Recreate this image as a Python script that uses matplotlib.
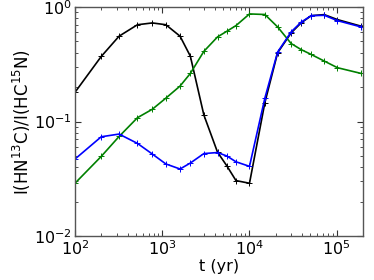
import matplotlib
matplotlib.use("Agg")
import matplotlib.pyplot as plt

# time grid (yr)
t = [100, 200, 320, 520, 770, 1100, 1600, 2100, 3000, 4300, 5500, 7000,
     10000, 15000, 21000, 30000, 39000, 51000, 72000, 102000, 190000]

ratio_black = [0.18, 0.37, 0.556, 0.70, 0.726, 0.70, 0.556, 0.372, 0.114, 0.054,
               0.041, 0.0305, 0.0289, 0.146, 0.398, 0.594, 0.726, 0.84, 0.858,
               0.776, 0.68]
ratio_green = [0.0289, 0.0496, 0.074, 0.108, 0.128, 0.16, 0.204, 0.263, 0.41,
               0.548, 0.614, 0.688, 0.87, 0.86, 0.67, 0.48, 0.425, 0.385, 0.337,
               0.295, 0.263]
ratio_blue = [0.047, 0.0736, 0.0777, 0.0644, 0.052, 0.0426, 0.0385, 0.0434,
              0.0525, 0.0536, 0.050, 0.0445, 0.0406, 0.16, 0.404, 0.606, 0.736,
              0.84, 0.846, 0.76, 0.67]

fig = plt.figure(figsize=(3.74, 2.8), dpi=100)
ax = fig.add_axes([0.2005, 0.157, 0.7701, 0.818])

style = dict(marker='+', markersize=5, linewidth=1.2, markeredgewidth=0.7)
ax.plot(t, ratio_black, color='black', **style)
ax.plot(t, ratio_green, color='#008000', **style)
ax.plot(t, ratio_blue, color='#0000ff', **style)

ax.set_xscale('log')
ax.set_yscale('log')
ax.set_xlim(100, 2e5)
ax.set_ylim(0.01, 1)

for s in ax.spines.values():
    s.set_color('#555555')
    s.set_linewidth(1.0)
ax.tick_params(which='both', direction='in', top=True, right=True,
               colors='black', labelsize=11.5, pad=2)
ax.tick_params(which='major', length=4, color='#333333')
ax.tick_params(which='minor', length=2, color='#333333')

ax.set_xlabel('t (yr)', fontsize=11.5, labelpad=1)
ax.set_ylabel(r'I(HN$^{13}$C)/I(HC$^{15}$N)', fontsize=12, labelpad=1)

fig.savefig('out.png', dpi=100)
